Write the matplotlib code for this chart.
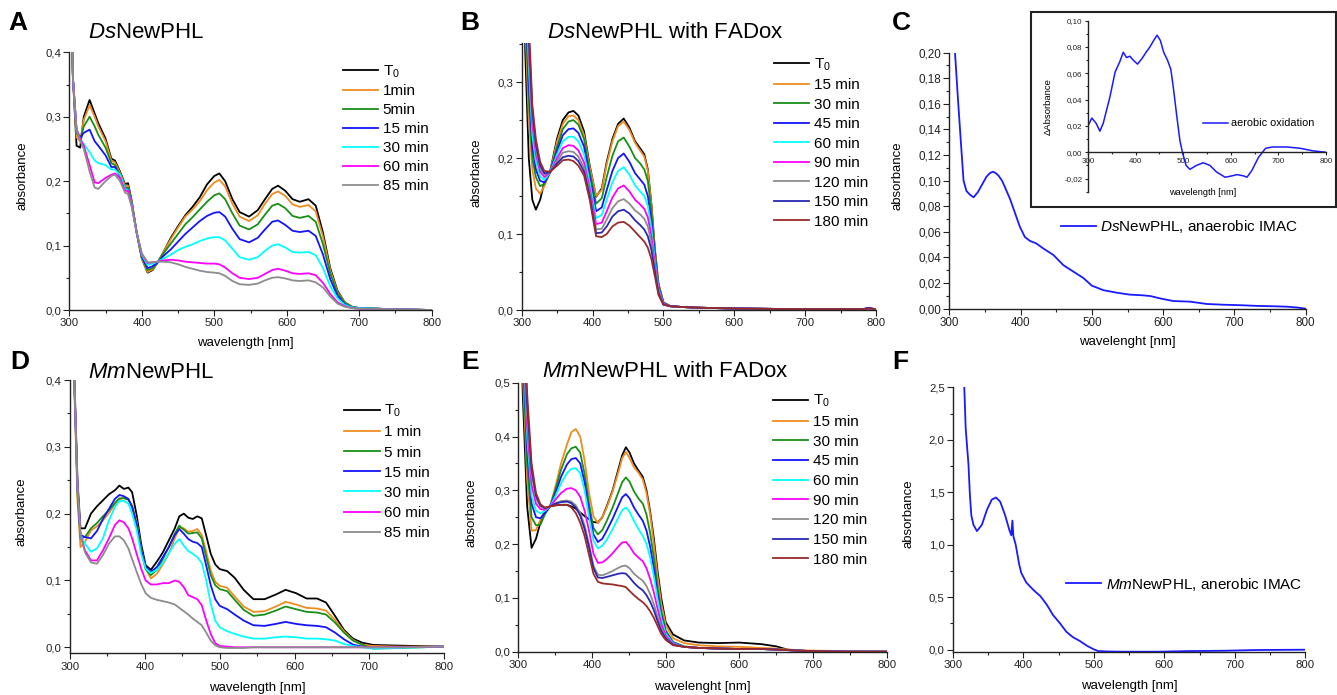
import matplotlib
matplotlib.use('agg')
import matplotlib.pyplot as plt
from matplotlib.ticker import MultipleLocator, FuncFormatter
from matplotlib.patches import Rectangle

plt.rcParams['font.family'] = ['Liberation Sans', 'DejaVu Sans']
plt.rcParams['mathtext.fontset'] = 'custom'
plt.rcParams['mathtext.rm'] = 'Liberation Sans'
plt.rcParams['mathtext.it'] = 'Liberation Sans:italic'
plt.rcParams['mathtext.bf'] = 'Liberation Sans:bold'

# ---- panel A : DsNewPHL ----
wl_a = [300, 305, 310, 315, 320, 328, 335, 340, 350, 358,
        363, 370, 377, 381, 386, 393, 400, 408, 415, 422,
        430, 440, 450, 460, 470, 480, 490, 500, 507, 515,
        525, 535, 548, 560, 570, 580, 588, 598, 608, 618,
        630, 640, 650, 660, 670, 680, 690, 700, 750, 800]
a_t0 = [0.60, 0.36, 0.255, 0.252, 0.300, 0.326, 0.305, 0.290, 0.266, 0.235,
        0.232, 0.215, 0.195, 0.197, 0.170, 0.120, 0.080, 0.058, 0.062, 0.074,
        0.090, 0.112, 0.130, 0.147, 0.160, 0.175, 0.195, 0.208, 0.212, 0.200,
        0.172, 0.152, 0.145, 0.155, 0.172, 0.188, 0.193, 0.185, 0.172, 0.168,
        0.172, 0.162, 0.120, 0.065, 0.030, 0.012, 0.005, 0.003, 0.001, 0.000]
a_1 = [0.60, 0.36, 0.268, 0.262, 0.295, 0.318, 0.300, 0.285, 0.262, 0.232,
       0.229, 0.213, 0.193, 0.193, 0.168, 0.120, 0.080, 0.059, 0.063, 0.074,
       0.090, 0.110, 0.128, 0.145, 0.156, 0.169, 0.186, 0.198, 0.202, 0.192,
       0.165, 0.145, 0.138, 0.147, 0.165, 0.180, 0.184, 0.177, 0.164, 0.160,
       0.163, 0.153, 0.114, 0.062, 0.028, 0.012, 0.005, 0.003, 0.001, 0.000]
a_5 = [0.60, 0.36, 0.275, 0.265, 0.285, 0.300, 0.285, 0.272, 0.252, 0.228,
       0.225, 0.210, 0.190, 0.190, 0.166, 0.120, 0.082, 0.062, 0.065, 0.074,
       0.088, 0.103, 0.118, 0.133, 0.144, 0.156, 0.168, 0.178, 0.181, 0.172,
       0.150, 0.131, 0.125, 0.133, 0.148, 0.162, 0.165, 0.158, 0.146, 0.143,
       0.146, 0.137, 0.102, 0.057, 0.026, 0.011, 0.005, 0.003, 0.001, 0.000]
a_15 = [0.60, 0.36, 0.280, 0.267, 0.275, 0.280, 0.262, 0.255, 0.240, 0.222,
        0.222, 0.207, 0.188, 0.187, 0.165, 0.120, 0.083, 0.065, 0.068, 0.074,
        0.084, 0.094, 0.106, 0.118, 0.128, 0.138, 0.146, 0.151, 0.152, 0.145,
        0.126, 0.110, 0.105, 0.112, 0.125, 0.137, 0.139, 0.132, 0.123, 0.121,
        0.123, 0.115, 0.086, 0.048, 0.022, 0.009, 0.004, 0.003, 0.001, 0.000]
a_30 = [0.60, 0.36, 0.280, 0.265, 0.258, 0.245, 0.232, 0.228, 0.225, 0.218,
        0.218, 0.210, 0.188, 0.186, 0.165, 0.120, 0.085, 0.070, 0.072, 0.075,
        0.080, 0.086, 0.093, 0.098, 0.102, 0.107, 0.111, 0.113, 0.113, 0.108,
        0.095, 0.082, 0.078, 0.082, 0.092, 0.100, 0.102, 0.097, 0.090, 0.089,
        0.090, 0.085, 0.065, 0.037, 0.018, 0.008, 0.004, 0.003, 0.001, 0.000]
a_60 = [0.60, 0.36, 0.280, 0.265, 0.255, 0.225, 0.198, 0.197, 0.205, 0.210,
        0.212, 0.205, 0.185, 0.185, 0.163, 0.120, 0.087, 0.073, 0.074, 0.075,
        0.077, 0.078, 0.077, 0.075, 0.074, 0.073, 0.072, 0.072, 0.071, 0.066,
        0.057, 0.050, 0.048, 0.050, 0.056, 0.062, 0.064, 0.061, 0.057, 0.056,
        0.057, 0.054, 0.042, 0.025, 0.012, 0.006, 0.003, 0.002, 0.001, 0.000]
a_85 = [0.60, 0.36, 0.278, 0.262, 0.250, 0.215, 0.190, 0.188, 0.200, 0.208,
        0.210, 0.200, 0.182, 0.180, 0.160, 0.120, 0.088, 0.074, 0.074, 0.075,
        0.075, 0.074, 0.071, 0.067, 0.064, 0.061, 0.059, 0.058, 0.057, 0.053,
        0.045, 0.040, 0.039, 0.041, 0.046, 0.050, 0.051, 0.049, 0.046, 0.045,
        0.046, 0.043, 0.035, 0.021, 0.010, 0.005, 0.003, 0.002, 0.001, 0.000]
labels_a = ['T$_0$', '1min', '5min', '15 min', '30 min', '60 min', '85 min']

# ---- panel B : DsNewPHL with FADox ----
wl_b = [300, 305, 310, 315, 320, 326, 332, 340, 350, 358,
        366, 373, 380, 388, 396, 405, 413, 420, 428, 436,
        444, 452, 460, 467, 473, 478, 483, 488, 493, 500,
        510, 525, 550, 600, 700, 780, 790, 800]
b_t0 = [0.80, 0.34, 0.20, 0.145, 0.132, 0.145, 0.168, 0.182, 0.226, 0.250,
        0.260, 0.262, 0.256, 0.235, 0.190, 0.149, 0.160, 0.195, 0.225, 0.245,
        0.252, 0.240, 0.222, 0.213, 0.205, 0.185, 0.140, 0.080, 0.035, 0.010,
        0.005, 0.004, 0.003, 0.002, 0.001, 0.001, 0.002, 0.001]
b_15 = [0.80, 0.38, 0.25, 0.185, 0.160, 0.153, 0.163, 0.181, 0.222, 0.245,
        0.255, 0.256, 0.250, 0.230, 0.188, 0.150, 0.158, 0.192, 0.222, 0.242,
        0.248, 0.237, 0.220, 0.210, 0.202, 0.183, 0.138, 0.078, 0.034, 0.010,
        0.005, 0.004, 0.003, 0.002, 0.001, 0.001, 0.002, 0.001]
b_30 = [0.80, 0.40, 0.28, 0.200, 0.175, 0.163, 0.166, 0.181, 0.215, 0.238,
        0.248, 0.250, 0.244, 0.225, 0.182, 0.140, 0.147, 0.175, 0.203, 0.222,
        0.227, 0.215, 0.200, 0.193, 0.185, 0.170, 0.130, 0.075, 0.032, 0.009,
        0.005, 0.004, 0.003, 0.002, 0.001, 0.001, 0.002, 0.001]
b_45 = [0.80, 0.42, 0.30, 0.215, 0.185, 0.170, 0.168, 0.181, 0.210, 0.230,
        0.238, 0.239, 0.233, 0.215, 0.175, 0.130, 0.135, 0.158, 0.183, 0.200,
        0.206, 0.195, 0.180, 0.172, 0.165, 0.150, 0.118, 0.070, 0.030, 0.009,
        0.005, 0.004, 0.003, 0.002, 0.001, 0.001, 0.002, 0.001]
b_60 = [0.80, 0.44, 0.32, 0.230, 0.195, 0.176, 0.171, 0.181, 0.205, 0.222,
        0.228, 0.228, 0.222, 0.205, 0.168, 0.121, 0.125, 0.145, 0.168, 0.183,
        0.188, 0.178, 0.164, 0.156, 0.150, 0.137, 0.108, 0.065, 0.028, 0.008,
        0.005, 0.004, 0.003, 0.002, 0.001, 0.001, 0.002, 0.001]
b_90 = [0.80, 0.46, 0.34, 0.245, 0.205, 0.182, 0.175, 0.181, 0.200, 0.213,
        0.217, 0.216, 0.210, 0.194, 0.160, 0.113, 0.115, 0.130, 0.148, 0.160,
        0.164, 0.156, 0.145, 0.139, 0.133, 0.122, 0.097, 0.060, 0.026, 0.008,
        0.005, 0.004, 0.003, 0.002, 0.001, 0.001, 0.002, 0.001]
b_120 = [0.80, 0.48, 0.35, 0.255, 0.212, 0.186, 0.178, 0.181, 0.196, 0.207,
         0.209, 0.208, 0.202, 0.187, 0.155, 0.106, 0.107, 0.119, 0.134, 0.143,
         0.146, 0.140, 0.131, 0.126, 0.120, 0.110, 0.088, 0.055, 0.024, 0.007,
         0.005, 0.004, 0.003, 0.002, 0.001, 0.001, 0.002, 0.001]
b_150 = [0.80, 0.50, 0.36, 0.262, 0.218, 0.190, 0.180, 0.181, 0.193, 0.201,
         0.203, 0.202, 0.196, 0.182, 0.150, 0.101, 0.102, 0.110, 0.123, 0.130,
         0.132, 0.127, 0.118, 0.112, 0.106, 0.097, 0.079, 0.050, 0.022, 0.007,
         0.005, 0.004, 0.003, 0.002, 0.001, 0.001, 0.003, 0.001]
b_180 = [0.80, 0.52, 0.38, 0.270, 0.225, 0.195, 0.183, 0.182, 0.190, 0.197,
         0.198, 0.196, 0.190, 0.177, 0.145, 0.097, 0.096, 0.100, 0.110, 0.115,
         0.116, 0.111, 0.103, 0.096, 0.090, 0.082, 0.067, 0.044, 0.020, 0.007,
         0.005, 0.004, 0.003, 0.002, 0.001, 0.001, 0.002, 0.001]
labels_fad = ['T$_0$', '15 min', '30 min', '45 min', '60 min', '90 min',
              '120 min', '150 min', '180 min']

# ---- panel C : DsNewPHL anaerobic + inset ----
wl_c = [308, 312, 316, 320, 324, 329, 334, 340, 346, 352,
        357, 361, 365, 369, 374, 378, 385, 392, 399, 406,
        413, 422, 432, 446, 460, 474, 488, 500, 516, 535,
        553, 570, 582, 596, 614, 638, 661, 685, 710, 731,
        755, 773, 790, 800]
abs_c = [0.200, 0.165, 0.132, 0.100, 0.092, 0.089, 0.087, 0.091, 0.097, 0.103,
         0.106, 0.107, 0.106, 0.104, 0.100, 0.095, 0.086, 0.075, 0.064, 0.056,
         0.053, 0.051, 0.047, 0.042, 0.034, 0.029, 0.024, 0.018, 0.0145, 0.0125,
         0.011, 0.0105, 0.0099, 0.008, 0.006, 0.0055, 0.0037, 0.0031, 0.0027, 0.0022,
         0.0019, 0.0016, 0.0008, 0.0]
wl_ins = [300, 308, 317, 325, 332, 339, 346, 357, 367, 374,
          381, 388, 395, 404, 413, 422, 430, 438, 445, 452,
          459, 467, 474, 479, 486, 493, 499, 506, 514, 528,
          542, 556, 570, 588, 602, 613, 627, 634, 644, 658,
          673, 687, 718, 746, 773, 800]
d_ins = [0.020, 0.026, 0.022, 0.016, 0.022, 0.032, 0.042, 0.061, 0.069, 0.076,
         0.072, 0.073, 0.070, 0.067, 0.071, 0.076, 0.080, 0.085, 0.089, 0.085,
         0.076, 0.070, 0.063, 0.050, 0.029, 0.009, -0.001, -0.010, -0.013, -0.010,
         -0.008, -0.010, -0.015, -0.019, -0.018, -0.017, -0.018, -0.019, -0.014, -0.004,
         0.003, 0.004, 0.004, 0.003, 0.001, 0.0]

# ---- panel D : MmNewPHL ----
wl_d = [300, 306, 310, 314, 320, 328, 336, 344, 352, 360,
        366, 372, 378, 383, 389, 395, 401, 408, 416, 424,
        432, 440, 446, 452, 458, 464, 470, 476, 482, 488,
        494, 500, 510, 520, 532, 545, 560, 575, 588, 602,
        616, 630, 642, 654, 666, 678, 690, 705, 740, 800]
d_t0 = [0.60, 0.40, 0.25, 0.178, 0.178, 0.200, 0.211, 0.220, 0.229, 0.235,
        0.242, 0.237, 0.239, 0.232, 0.198, 0.155, 0.123, 0.116, 0.128, 0.142,
        0.160, 0.178, 0.196, 0.200, 0.194, 0.192, 0.196, 0.193, 0.167, 0.140,
        0.124, 0.117, 0.114, 0.104, 0.086, 0.072, 0.072, 0.079, 0.086, 0.081,
        0.073, 0.073, 0.067, 0.047, 0.026, 0.013, 0.007, 0.0035, 0.0025, 0.001]
d_1 = [0.60, 0.38, 0.22, 0.150, 0.158, 0.175, 0.181, 0.190, 0.201, 0.214,
       0.221, 0.224, 0.221, 0.212, 0.188, 0.148, 0.118, 0.103, 0.110, 0.124,
       0.140, 0.163, 0.179, 0.178, 0.173, 0.174, 0.177, 0.168, 0.143, 0.115,
       0.098, 0.092, 0.089, 0.076, 0.061, 0.053, 0.054, 0.061, 0.068, 0.064,
       0.059, 0.058, 0.055, 0.041, 0.024, 0.011, 0.004, 0.002, 0.001, 0.001]
d_5 = [0.60, 0.39, 0.23, 0.163, 0.165, 0.178, 0.186, 0.196, 0.205, 0.216,
       0.223, 0.223, 0.221, 0.210, 0.185, 0.145, 0.117, 0.108, 0.116, 0.132,
       0.150, 0.170, 0.182, 0.176, 0.170, 0.171, 0.172, 0.163, 0.135, 0.108,
       0.093, 0.087, 0.084, 0.071, 0.056, 0.047, 0.049, 0.055, 0.061, 0.057,
       0.053, 0.052, 0.049, 0.037, 0.022, 0.010, 0.004, -0.002, -0.001, 0.001]
d_15 = [0.60, 0.39, 0.24, 0.168, 0.165, 0.163, 0.174, 0.192, 0.207, 0.222,
        0.228, 0.226, 0.222, 0.210, 0.183, 0.145, 0.120, 0.113, 0.120, 0.135,
        0.150, 0.168, 0.177, 0.170, 0.162, 0.158, 0.156, 0.150, 0.122, 0.093,
        0.072, 0.062, 0.057, 0.049, 0.040, 0.033, 0.032, 0.035, 0.038, 0.035,
        0.033, 0.032, 0.030, 0.022, 0.012, 0.004, 0.001, -0.001, 0.000, 0.001]
d_30 = [0.60, 0.39, 0.24, 0.168, 0.155, 0.143, 0.148, 0.163, 0.190, 0.210,
        0.219, 0.219, 0.215, 0.200, 0.176, 0.140, 0.118, 0.111, 0.116, 0.126,
        0.141, 0.155, 0.162, 0.152, 0.144, 0.140, 0.135, 0.126, 0.100, 0.065,
        0.040, 0.030, 0.024, 0.020, 0.016, 0.013, 0.013, 0.015, 0.016, 0.015,
        0.013, 0.013, 0.012, 0.010, 0.005, 0.002, 0.000, -0.002, -0.001, 0.001]
d_60 = [0.60, 0.39, 0.24, 0.168, 0.145, 0.130, 0.130, 0.145, 0.163, 0.183,
        0.190, 0.187, 0.178, 0.163, 0.140, 0.118, 0.100, 0.094, 0.094, 0.096,
        0.096, 0.100, 0.098, 0.090, 0.078, 0.075, 0.072, 0.063, 0.040, 0.020,
        0.006, 0.002, 0.001, 0.000, 0.000, 0.000, 0.000, 0.000, 0.000, 0.000,
        0.000, 0.000, 0.000, 0.000, 0.000, 0.000, 0.000, 0.000, 0.000, 0.001]
d_85 = [0.60, 0.39, 0.24, 0.168, 0.142, 0.127, 0.125, 0.138, 0.155, 0.166,
        0.166, 0.160, 0.148, 0.132, 0.113, 0.095, 0.081, 0.074, 0.071, 0.069,
        0.067, 0.064, 0.059, 0.054, 0.049, 0.043, 0.038, 0.033, 0.022, 0.010,
        0.003, 0.000, -0.001, -0.001, -0.001, 0.000, 0.000, 0.000, 0.000, 0.000,
        0.000, 0.000, 0.000, 0.000, 0.000, 0.000, 0.000, 0.000, 0.000, 0.001]
labels_d = ['T$_0$', '1 min', '5 min', '15 min', '30 min', '60 min', '85 min']

# ---- panel E : MmNewPHL with FADox ----
wl_e = [300, 306, 312, 318, 324, 330, 336, 343, 350, 358,
        366, 372, 378, 384, 390, 396, 402, 408, 414, 420,
        428, 436, 441, 446, 451, 457, 463, 469, 474, 479,
        484, 489, 494, 500, 510, 525, 545, 570, 600, 630,
        650, 665, 680, 700, 750, 800]
e_t0 = [0.80, 0.48, 0.27, 0.193, 0.210, 0.240, 0.262, 0.270, 0.272, 0.273,
        0.273, 0.270, 0.266, 0.259, 0.252, 0.246, 0.241, 0.240, 0.250, 0.270,
        0.300, 0.340, 0.365, 0.380, 0.370, 0.350, 0.337, 0.325, 0.300, 0.260,
        0.210, 0.150, 0.100, 0.055, 0.032, 0.021, 0.017, 0.016, 0.017, 0.014,
        0.010, 0.004, 0.002, 0.001, 0.000, 0.000]
e_15 = [0.80, 0.52, 0.32, 0.225, 0.226, 0.245, 0.262, 0.270, 0.305, 0.350,
        0.385, 0.408, 0.414, 0.400, 0.355, 0.295, 0.252, 0.239, 0.250, 0.268,
        0.298, 0.335, 0.360, 0.371, 0.360, 0.343, 0.333, 0.320, 0.295, 0.255,
        0.200, 0.140, 0.090, 0.050, 0.025, 0.016, 0.012, 0.010, 0.009, 0.007,
        0.006, 0.004, 0.003, 0.002, 0.001, 0.000]
e_30 = [0.80, 0.55, 0.35, 0.250, 0.235, 0.236, 0.255, 0.270, 0.300, 0.338,
        0.367, 0.378, 0.381, 0.370, 0.330, 0.275, 0.230, 0.218, 0.226, 0.243,
        0.268, 0.297, 0.315, 0.324, 0.316, 0.298, 0.285, 0.275, 0.255, 0.220,
        0.175, 0.120, 0.075, 0.040, 0.018, 0.010, 0.007, 0.006, 0.005, 0.005,
        0.004, 0.003, 0.002, 0.001, 0.000, 0.000]
e_45 = [0.80, 0.58, 0.38, 0.275, 0.250, 0.248, 0.258, 0.270, 0.293, 0.325,
        0.348, 0.358, 0.360, 0.350, 0.315, 0.262, 0.218, 0.204, 0.210, 0.225,
        0.247, 0.272, 0.287, 0.293, 0.285, 0.268, 0.255, 0.243, 0.225, 0.195,
        0.155, 0.107, 0.067, 0.036, 0.017, 0.009, 0.007, 0.006, 0.005, 0.005,
        0.004, 0.003, 0.002, 0.001, 0.000, 0.000]
e_60 = [0.80, 0.60, 0.40, 0.290, 0.262, 0.257, 0.262, 0.270, 0.288, 0.313,
        0.332, 0.340, 0.341, 0.332, 0.300, 0.250, 0.206, 0.192, 0.197, 0.208,
        0.228, 0.250, 0.263, 0.268, 0.260, 0.243, 0.228, 0.215, 0.200, 0.175,
        0.140, 0.098, 0.062, 0.034, 0.016, 0.009, 0.007, 0.006, 0.005, 0.005,
        0.004, 0.003, 0.002, 0.001, 0.000, 0.000]
e_90 = [0.80, 0.62, 0.42, 0.310, 0.275, 0.265, 0.264, 0.270, 0.282, 0.295,
        0.303, 0.304, 0.300, 0.288, 0.262, 0.225, 0.182, 0.165, 0.166, 0.172,
        0.183, 0.196, 0.203, 0.204, 0.196, 0.183, 0.175, 0.168, 0.155, 0.135,
        0.110, 0.080, 0.052, 0.030, 0.015, 0.009, 0.007, 0.006, 0.005, 0.005,
        0.004, 0.003, 0.002, 0.001, 0.000, 0.000]
e_120 = [0.80, 0.64, 0.44, 0.330, 0.285, 0.270, 0.266, 0.270, 0.276, 0.280,
         0.281, 0.279, 0.272, 0.258, 0.235, 0.200, 0.160, 0.143, 0.142, 0.145,
         0.150, 0.156, 0.159, 0.160, 0.155, 0.145, 0.138, 0.132, 0.122, 0.107,
         0.088, 0.065, 0.044, 0.027, 0.014, 0.009, 0.007, 0.006, 0.005, 0.005,
         0.004, 0.003, 0.002, 0.001, 0.000, 0.000]
e_150 = [0.80, 0.66, 0.46, 0.340, 0.290, 0.272, 0.267, 0.270, 0.275, 0.278,
         0.279, 0.276, 0.268, 0.253, 0.228, 0.194, 0.155, 0.138, 0.137, 0.139,
         0.142, 0.145, 0.146, 0.145, 0.138, 0.128, 0.120, 0.114, 0.105, 0.093,
         0.077, 0.057, 0.039, 0.025, 0.013, 0.009, 0.007, 0.006, 0.005, 0.005,
         0.004, 0.003, 0.002, 0.001, 0.000, 0.000]
e_180 = [0.80, 0.68, 0.48, 0.350, 0.295, 0.274, 0.268, 0.270, 0.272, 0.273,
         0.273, 0.268, 0.258, 0.240, 0.215, 0.180, 0.145, 0.130, 0.127, 0.126,
         0.125, 0.123, 0.122, 0.120, 0.113, 0.105, 0.098, 0.092, 0.085, 0.075,
         0.063, 0.048, 0.033, 0.022, 0.012, 0.009, 0.007, 0.006, 0.005, 0.005,
         0.004, 0.003, 0.002, 0.001, 0.000, 0.000]

# ---- panel F : MmNewPHL anaerobic ----
wl_f = [316, 318, 322, 324, 326, 329, 334, 341, 348, 355,
        361, 367, 374, 380, 382.7, 384.3, 385.7, 389, 394, 397,
        404, 414, 424, 433, 442, 452, 461, 470, 480, 490,
        499, 506, 520, 542, 590, 636, 684, 731, 800]
abs_f = [2.50, 2.11, 1.76, 1.47, 1.28, 1.19, 1.13, 1.19, 1.33, 1.43,
         1.45, 1.41, 1.28, 1.14, 1.09, 1.23, 1.08, 1.00, 0.81, 0.73,
         0.64, 0.57, 0.51, 0.43, 0.33, 0.25, 0.17, 0.12, 0.083, 0.038,
         0.006, -0.013, -0.017, -0.019, -0.019, -0.013, -0.010, -0.003, 0.0]

col7 = ['#000000', '#f08c1e', '#179017', '#1414ff', '#00ffff', '#ff00ff', '#8c8c8c']
col9 = ['#000000', '#f08c1e', '#179017', '#1414ff', '#00ffff', '#ff00ff', '#8c8c8c',
        '#2828b4', '#9b2a2a']
blue = '#1a1aff'

W, H = 1337, 695
fig = plt.figure(figsize=(W / 100, H / 100), dpi=100)


def box(l, t, r, b):
    return [l / W, 1 - b / H, (r - l) / W, (b - t) / H]


def fx(px):
    return px / W


def fy(py):
    return 1 - py / H


def comma(fmt):
    def f(v, p):
        if abs(v) < 1e-9:
            v = 0.0
        return (fmt % v).replace('.', ',')
    return FuncFormatter(f)


def style(ax, ylim, ymaj, ymin, fmt, lsize=8.2):
    ax.set_xlim(300, 800)
    ax.set_ylim(*ylim)
    for s in ['top', 'right']:
        ax.spines[s].set_visible(False)
    for s in ['left', 'bottom']:
        ax.spines[s].set_linewidth(1.0)
        ax.spines[s].set_color('#222222')
    ax.xaxis.set_major_locator(MultipleLocator(100))
    ax.xaxis.set_minor_locator(MultipleLocator(50))
    ax.yaxis.set_major_locator(MultipleLocator(ymaj))
    ax.yaxis.set_minor_locator(MultipleLocator(ymin))
    ax.yaxis.set_major_formatter(comma(fmt))
    ax.xaxis.set_major_formatter(FuncFormatter(lambda v, p: '%d' % v))
    ax.tick_params(which='major', direction='out', length=4, width=0.8,
                   labelsize=lsize, pad=2, colors='#222222')
    ax.tick_params(which='minor', direction='out', length=2.5, width=0.8,
                   colors='#222222')


def series_legend(ax, x, y, ls):
    ax.legend(loc='upper left', bbox_to_anchor=(x, y), frameon=False, fontsize=11,
              handlelength=2.3, handletextpad=0.3, labelspacing=ls,
              borderpad=0, borderaxespad=0)


def one_legend(ax, x, y, fs):
    ax.legend(loc='center left', bbox_to_anchor=(x, y), frameon=False, fontsize=fs,
              handlelength=2.3, handletextpad=0.3, borderpad=0, borderaxespad=0)


lw = 1.3

# A
axA = fig.add_axes(box(69.3, 52.3, 431.7, 310))
for ys, c, lab in zip([a_t0, a_1, a_5, a_15, a_30, a_60, a_85], col7, labels_a):
    axA.plot(wl_a, ys, color=c, lw=lw, label=lab)
style(axA, (0, 0.4), 0.1, 0.05, '%.1f')
series_legend(axA, 0.755, 0.958, 0.32)

# B
axB = fig.add_axes(box(521.7, 43.3, 876, 310))
for ys, c, lab in zip([b_t0, b_15, b_30, b_45, b_60, b_90, b_120, b_150, b_180], col9, labels_fad):
    axB.plot(wl_b, ys, color=c, lw=lw, label=lab)
style(axB, (0, 0.351), 0.1, 0.05, '%.1f')
series_legend(axB, 0.712, 0.952, 0.36)

# C
axC = fig.add_axes(box(949.3, 52.7, 1305.7, 308.7))
axC.plot(wl_c, abs_c, color=blue, lw=lw, label='$\\mathit{Ds}$NewPHL, anaerobic IMAC')
style(axC, (0, 0.2), 0.02, 0.01, '%.2f', lsize=8.4)
one_legend(axC, 0.3126, 0.32, 11)

fig.add_artist(Rectangle((fx(1030.7), fy(207.3)), (1335.5 - 1030.7) / W, (207.3 - 11.7) / H,
                         transform=fig.transFigure, facecolor='white',
                         edgecolor='#222222', lw=1.5, zorder=2))
axI = fig.add_axes(box(1088, 20.7, 1326, 191.7))
axI.set_zorder(3)
axI.patch.set_alpha(0)
axI.plot(wl_ins, d_ins, color=blue, lw=1.1, label='aerobic oxidation')
style(axI, (-0.03, 0.10), 0.02, 0.01, '%.2f', lsize=5.8)
axI.spines['bottom'].set_position(('data', 0))
axI.tick_params(which='major', length=2.5, pad=1.5)
axI.tick_params(which='minor', length=1.5)
one_legend(axI, 0.483, 0.4, 7.8)

# D
axD = fig.add_axes(box(70, 380, 444.3, 653.3))
for ys, c, lab in zip([d_t0, d_1, d_5, d_15, d_30, d_60, d_85], col7, labels_d):
    axD.plot(wl_d, ys, color=c, lw=lw, label=lab)
style(axD, (-0.009, 0.4), 0.1, 0.05, '%.1f')
series_legend(axD, 0.733, 0.916, 0.40)

# E
axE = fig.add_axes(box(518.3, 382.7, 886.7, 651.7))
for ys, c, lab in zip([e_t0, e_15, e_30, e_45, e_60, e_90, e_120, e_150, e_180], col9, labels_fad):
    axE.plot(wl_e, ys, color=c, lw=lw, label=lab)
style(axE, (0, 0.5), 0.1, 0.05, '%.1f')
series_legend(axE, 0.692, 0.962, 0.37)

# F
axF = fig.add_axes(box(953, 387.3, 1305.3, 651.7))
axF.plot(wl_f, abs_f, color=blue, lw=lw, label='$\\mathit{Mm}$NewPHL, anerobic IMAC')
style(axF, (-0.019, 2.5), 0.5, 0.25, '%.1f')
one_legend(axF, 0.3207, 0.256, 11)

# titles and panel letters
tfs = 16
fig.text(fx(88), fy(38.3), '$\\mathit{Ds}$NewPHL', fontsize=tfs, ha='left', va='baseline')
fig.text(fx(546.7), fy(38.3), '$\\mathit{Ds}$NewPHL with FADox', fontsize=tfs, ha='left', va='baseline')
fig.text(fx(88.3), fy(378.3), '$\\mathit{Mm}$NewPHL', fontsize=tfs, ha='left', va='baseline')
fig.text(fx(541.7), fy(377.3), '$\\mathit{Mm}$NewPHL with FADox', fontsize=tfs, ha='left', va='baseline')

for letter, x, y in [('A', 8, 30), ('B', 460, 30), ('C', 891.5, 30),
                     ('D', 10, 369), ('E', 461, 369), ('F', 892.5, 369)]:
    fig.text(fx(x), fy(y), letter, fontsize=19, fontweight='bold', ha='left', va='baseline')

# axis labels
lfs = 9.5
for x, y in [(22.5, 176), (476.7, 172.5), (897.5, 176), (21.7, 511.7), (471.3, 512.5), (908, 514)]:
    fig.text(fx(x), fy(y), 'absorbance', fontsize=lfs, rotation=90, ha='center', va='center')
for x, y, s in [(245.8, 343, 'wavelength [nm]'), (1127.5, 342.3, 'wavelenght [nm]'),
                (257, 688.3, 'wavelength [nm]'), (702.5, 686.7, 'wavelenght [nm]'),
                (1129.3, 685.7, 'wavelength [nm]')]:
    fig.text(fx(x), fy(y), s, fontsize=lfs, ha='center', va='center')

# inset labels
fig.text(fx(1048), fy(107), '\u0394Absorbance', fontsize=6.8, rotation=90,
         ha='center', va='center', zorder=4)
fig.text(fx(1202.7), fy(192.3), 'wavelength [nm]', fontsize=6.6, ha='center',
         va='center', zorder=4)

fig.savefig('out.png', dpi=100)
